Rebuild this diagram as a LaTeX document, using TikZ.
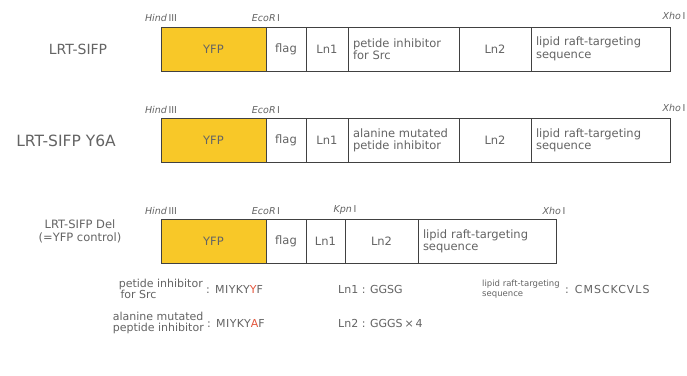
\documentclass[tikz,border=0pt]{standalone}
\usepackage{fontspec}
\setmainfont{DejaVu Sans}
\usepackage{tikz}
\usetikzlibrary{positioning}
\definecolor{yfpyellow}{RGB}{248,200,40}
\definecolor{inkgray}{RGB}{100,100,100}
\definecolor{linegray}{RGB}{65,65,65}
\definecolor{mutred}{RGB}{228,85,60}
\tikzset{
  segbox/.style={draw=linegray, line width=0.9pt, outer sep=0pt, inner sep=0pt,
    minimum height=44pt, text=inkgray, font=\fontsize{11.5}{12.5}\selectfont},
  yfpbox/.style={segbox, fill=yfpyellow, minimum width=105pt},
  notebox/.style={segbox, align=left, inner xsep=5pt, text width=#1},
  sitelabel/.style={inner sep=0pt, text=inkgray, font=\fontsize{9.5}{10}\selectfont},
  rowname/.style={inner sep=0pt, text=inkgray, align=center},
  legendtext/.style={inner sep=0pt, text=inkgray, align=left, font=\fontsize{11}{11.5}\selectfont},
  seqtext/.style={legendtext, font=\fontsize{11}{11.5}\selectfont\addfontfeatures{LetterSpace=4}}
}

\begin{document}
\begin{tikzpicture}[x=1pt, y=-1pt, node distance=0pt]
\useasboundingbox[fill=white] (0,0) rectangle (687,375);

% LRT-SIFP
\node[yfpbox] (yfpA) at (213.5,49) {YFP};
\node[segbox, minimum width=40pt, right=of yfpA] (flagA) {flag};
\node[segbox, minimum width=42pt, right=of flagA] (lnoneA) {Ln1};
\node[notebox=101pt, right=of lnoneA] (pepA) {petide inhibitor\\for Src};
\node[segbox, minimum width=72pt, right=of pepA] (lntwoA) {Ln2};
\node[notebox=129pt, right=of lntwoA] (lipA) {lipid raft-targeting\\sequence};
\node[rowname, font=\fontsize{14}{16}\selectfont] (nameA) at (78,49) {LRT-SIFP};
\node[sitelabel, above=5pt of yfpA.north west] {\textit{Hind}\,III};
\node[sitelabel, above=5pt of yfpA.north east] {\textit{EcoR}\,I};
\node[sitelabel, above=7pt of lipA.north east, xshift=4pt] {\textit{Xho}\,I};

% LRT-SIFP Y6A
\node[yfpbox] (yfpB) at (213.5,140.5) {YFP};
\node[segbox, minimum width=40pt, right=of yfpB] (flagB) {flag};
\node[segbox, minimum width=42pt, right=of flagB] (lnoneB) {Ln1};
\node[notebox=101pt, right=of lnoneB] (pepB) {alanine mutated\\petide inhibitor};
\node[segbox, minimum width=72pt, right=of pepB] (lntwoB) {Ln2};
\node[notebox=129pt, right=of lntwoB] (lipB) {lipid raft-targeting\\sequence};
\node[rowname, font=\fontsize{15.5}{17}\selectfont] (nameB) at (66,141) {LRT-SIFP Y6A};
\node[sitelabel, above=5pt of yfpB.north west] {\textit{Hind}\,III};
\node[sitelabel, above=5pt of yfpB.north east] {\textit{EcoR}\,I};
\node[sitelabel, above=7pt of lipB.north east, xshift=4pt] {\textit{Xho}\,I};

% LRT-SIFP Del
\node[yfpbox] (yfpC) at (213.5,241.5) {YFP};
\node[segbox, minimum width=40pt, right=of yfpC] (flagC) {flag};
\node[segbox, minimum width=39pt, right=of flagC] (lnoneC) {Ln1};
\node[segbox, minimum width=73pt, right=of lnoneC] (lntwoC) {Ln2};
\node[notebox=128pt, right=of lntwoC] (lipC) {lipid raft-targeting\\sequence};
\node[rowname, font=\fontsize{11.5}{13}\selectfont] (nameC) at (80,231) {LRT-SIFP Del\\(=YFP control)};
\node[sitelabel, above=5pt of yfpC.north west] {\textit{Hind}\,III};
\node[sitelabel, above=5pt of yfpC.north east] {\textit{EcoR}\,I};
\node[sitelabel, above=5pt of lnoneC.north east] {\textit{Kpn}\,I};
\node[sitelabel, above=5pt of lipC.north east, xshift=-2pt] {\textit{Xho}\,I};

% sequences
\node[legendtext, anchor=east] (srcname) at (203,289) {petide inhibitor\\\,for Src};
\node[seqtext, right=3pt of srcname] (srcseq) {: MIYKY\textcolor{mutred}{Y}F};
\node[legendtext, anchor=east] (alaname) at (204,323) {alanine mutated\\peptide inhibitor};
\node[seqtext, right=3pt of alaname] (alaseq) {: MIYKY\textcolor{mutred}{A}F};
\node[legendtext, anchor=west] (lnoneseq) at (338,289) {Ln1 : GGSG};
\node[legendtext, anchor=west] (lntwoseq) at (338,323) {Ln2 : GGGS\,×\,4};
\node[legendtext, anchor=west, font=\fontsize{8.5}{10.5}\selectfont] (lipname) at (482,289) {lipid raft-targeting\\sequence};
\node[seqtext, anchor=west, font=\fontsize{11}{12}\selectfont\addfontfeatures{LetterSpace=9}] (lipseq) at (565,289) {: CMSCKCVLS};
\end{tikzpicture}
\end{document}
